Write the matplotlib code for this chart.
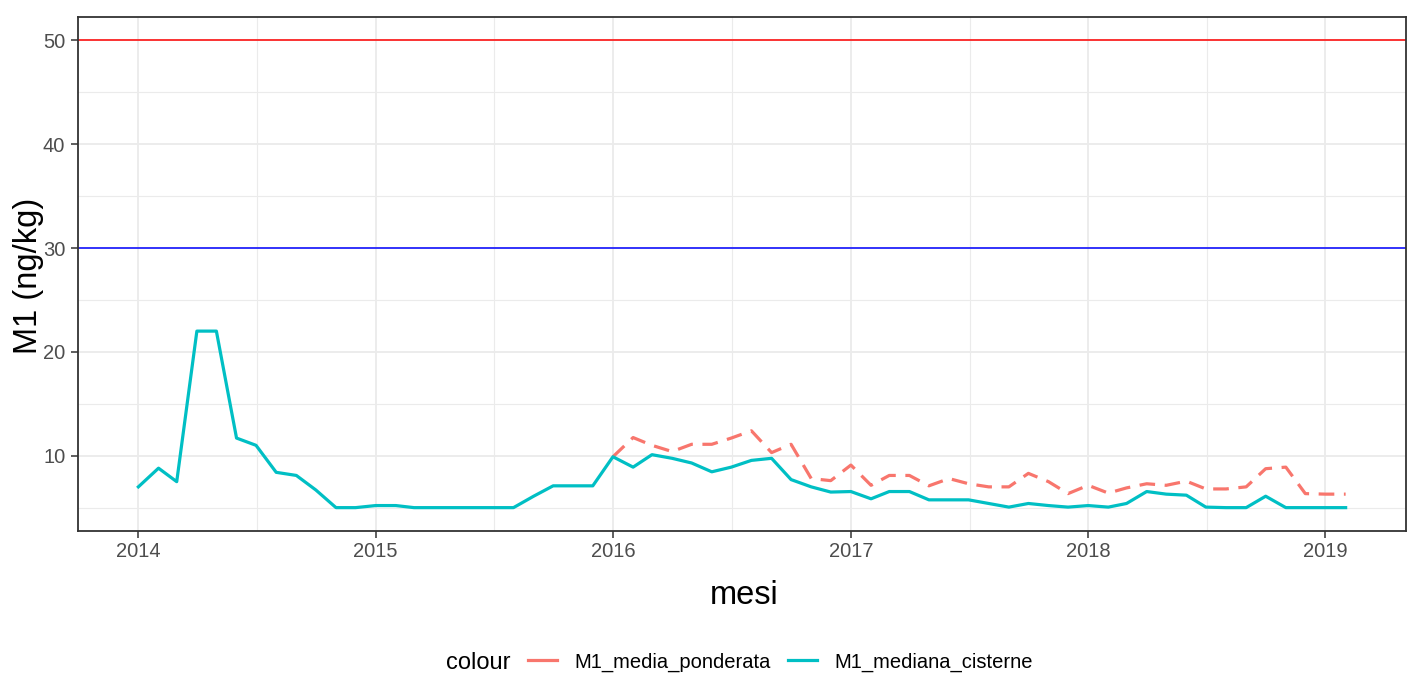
import matplotlib
matplotlib.use("Agg")
import matplotlib.pyplot as plt
import matplotlib.dates as mdates
from matplotlib.lines import Line2D
import numpy as np
import pandas as pd

plt.rcParams['font.family'] = ['Liberation Sans', 'DejaVu Sans']

# ---- data ----
months = pd.date_range('2014-01-01', '2019-02-01', freq='MS')

M1_mediana_cisterne = [
    7.0, 8.8, 7.5, 22.0, 22.0, 11.7, 11.0, 8.4, 8.1, 6.7, 5.0, 5.0,      # 2014
    5.2, 5.2, 5.0, 5.0, 5.0, 5.0, 5.0, 5.0, 6.1, 7.1, 7.1, 7.1,          # 2015
    9.9, 8.9, 10.1, 9.75, 9.3, 8.45, 8.9, 9.55, 9.75, 7.7, 7.0, 6.5,     # 2016
    6.55, 5.85, 6.55, 6.55, 5.75, 5.75, 5.75, 5.4, 5.05, 5.4, 5.2, 5.05, # 2017
    5.2, 5.05, 5.4, 6.55, 6.3, 6.2, 5.05, 5.0, 5.0, 6.1, 5.0, 5.0,       # 2018
    5.0, 5.0,                                                            # 2019
]

M1_media_ponderata = [np.nan] * 24 + [
    9.9, 11.75, 11.0, 10.4, 11.1, 11.1, 11.7, 12.4, 10.3, 11.1, 7.8, 7.6,  # 2016
    9.1, 7.15, 8.1, 8.1, 7.1, 7.8, 7.3, 7.0, 7.0, 8.3, 7.5, 6.35,          # 2017
    7.15, 6.4, 6.9, 7.3, 7.15, 7.55, 6.8, 6.8, 7.0, 8.75, 8.9, 6.35,       # 2018
    6.3, 6.3,                                                              # 2019
]

hline_values = [50, 30]
hline_colors = ['#FF0000', '#0000FF']

y_major = [10, 20, 30, 40, 50]
y_minor = [5, 15, 25, 35, 45]
x_tick_years = [2014, 2015, 2016, 2017, 2018, 2019]

series_labels = ['M1_media_ponderata', 'M1_mediana_cisterne']
series_colors = ['#F8766D', '#00BFC4']

# ---- figure ----
W, H = 1407, 673
fig = plt.figure(figsize=(W / 100, H / 100), dpi=100)
left, right, top, bottom = 78, 1406, 17, 531
ax = fig.add_axes([left / W, 1 - bottom / H, (right - left) / W, (bottom - top) / H])

x = mdates.date2num(months.to_pydatetime())

# grid
grid_col = '#EBEBEB'
for yv in y_minor:
    ax.axhline(yv, color=grid_col, lw=0.8, zorder=0)
for yv in y_major:
    ax.axhline(yv, color=grid_col, lw=1.3, zorder=0)
year_nums = [mdates.date2num(pd.Timestamp(f'{y}-01-01')) for y in x_tick_years]
minor_x = [(a + b) / 2 for a, b in zip(year_nums[:-1], year_nums[1:])]
for xv in minor_x:
    ax.axvline(xv, color=grid_col, lw=0.8, zorder=0)
for xv in year_nums:
    ax.axvline(xv, color=grid_col, lw=1.3, zorder=0)

# lines
ax.plot(x, M1_media_ponderata, color=series_colors[0], lw=2.3,
        dashes=(4.9, 3.0), zorder=3, solid_joinstyle='round')
ax.plot(x, M1_mediana_cisterne, color=series_colors[1], lw=2.3, zorder=4,
        solid_joinstyle='round')
for v, c in zip(hline_values, hline_colors):
    ax.axhline(v, color=c, lw=1.1, zorder=2)

# limits with ggplot-like 5% expansion
span = x[-1] - x[0]
ax.set_xlim(x[0] - 0.05 * span, x[-1] + 0.05 * span)
all_y = [v for v in M1_mediana_cisterne + M1_media_ponderata if not np.isnan(v)] + hline_values
ymin, ymax = min(all_y), max(all_y)
yr = ymax - ymin
ax.set_ylim(ymin - 0.05 * yr, ymax + 0.05 * yr)

ax.set_xticks(year_nums)
ax.set_xticklabels([str(y) for y in x_tick_years])
ax.set_yticks(y_major)
ax.set_yticklabels([str(v) for v in y_major])
ax.tick_params(axis='both', length=4.8, width=1.1, color='#333333',
               labelcolor='#4D4D4D', labelsize=14.5)
ax.tick_params(axis='x', pad=3.2)
ax.tick_params(axis='y', pad=4.3)
for s in ax.spines.values():
    s.set_color('#333333')
    s.set_linewidth(1.3)

# axis titles
fig.text(744 / W, 1 - 604 / H, 'mesi', ha='center', va='baseline', fontsize=23.5, color='black')
fig.text(29 / W, 1 - 276 / H, 'M1 (ng/kg)', ha='center', va='center', rotation=90,
         fontsize=23.5, color='black')

# legend
fig.text(446 / W, 1 - 669 / H, 'colour', ha='left', va='baseline', fontsize=17, color='black')
handles = [Line2D([0], [0], color=c, lw=2.3) for c in series_colors]
fig.legend(handles, series_labels, loc='center left',
           bbox_to_anchor=(528 / W, 1 - 662 / H), ncol=2, frameon=False,
           fontsize=14.5, handlelength=1.46, handletextpad=0.86,
           columnspacing=0.83, borderpad=0, borderaxespad=0)

fig.savefig('out.png', dpi=100)
